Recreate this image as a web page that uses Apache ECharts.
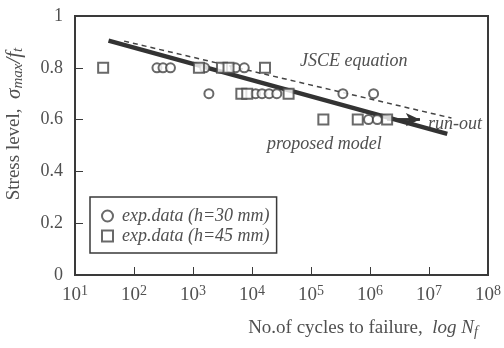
<!DOCTYPE html>
<html><head><meta charset="utf-8">
<script src="https://cdn.jsdelivr.net/npm/echarts@6/dist/echarts.min.js"></script>
<style>html,body{margin:0;padding:0;background:#fff}#c{width:504px;height:348px}</style>
</head><body><div id="c"></div>
<script>
// Data (N = cycles to failure, S = stress level)
const circleN = [245, 310, 415, 1580, 5250, 7400, 1860, 11500, 14800, 19500, 26300, 347000, 1150000, 944000, 1330000];
const circleS = [0.8, 0.8, 0.8, 0.8, 0.8, 0.8, 0.7, 0.7, 0.7, 0.7, 0.7, 0.7, 0.7, 0.6, 0.6];
const squareN = [30, 1260, 3100, 4000, 16600, 6600, 8300, 41700, 162000, 620000, 1950000];
const squareS = [0.8, 0.8, 0.8, 0.8, 0.8, 0.7, 0.7, 0.7, 0.6, 0.6, 0.6];
const modelN = [37, 20400000];
const modelS = [0.905, 0.545];
const jsceN = [68, 24000000];
const jsceS = [0.903, 0.606];
const runoutN = [1950000, 7000000];
const runoutS = [0.6, 0.6];
const yTicks = [0, 0.2, 0.4, 0.6, 0.8, 1];
const xExponents = [1, 2, 3, 4, 5, 6, 7, 8];

const serif = '"Liberation Serif", "DejaVu Serif", serif';
const ink = '#3a3a3a';
const txt = '#505050';
const zip = (a, b) => a.map((v, i) => [v, b[i]]);

const chart = echarts.init(document.getElementById('c'));
chart.setOption({
  animation: false,
  backgroundColor: '#fff',
  grid: { left: 75, right: 10, top: 16, bottom: 73, show: true, borderColor: ink, borderWidth: 2 },
  xAxis: {
    type: 'log', logBase: 10, min: Math.pow(10, xExponents[0]), max: Math.pow(10, xExponents[xExponents.length - 1]),
    axisLine: { lineStyle: { color: ink, width: 2 } },
    axisTick: { inside: true, length: 8, lineStyle: { color: ink, width: 1 } },
    minorTick: { show: false },
    splitLine: { show: false },
    axisLabel: {
      margin: 9, color: txt, fontFamily: serif, fontSize: 19,
      formatter: v => '10{s|' + Math.round(Math.log10(v)) + '}',
      rich: { s: { fontSize: 14, fontFamily: serif, color: txt, verticalAlign: 'top', padding: [0, 0, 9, 0] } }
    }
  },
  yAxis: {
    type: 'value', min: yTicks[0], max: yTicks[yTicks.length - 1], interval: 0.2,
    axisLine: { show: true, lineStyle: { color: ink, width: 2 } },
    axisTick: { show: true, inside: true, length: 8, lineStyle: { color: ink, width: 1 } },
    splitLine: { show: false },
    axisLabel: { margin: 12, color: txt, fontFamily: serif, fontSize: 18 }
  },
  legend: {
    left: 90, top: 197, orient: 'vertical', padding: [10, 7, 8, 11], itemGap: 2,
    itemWidth: 11, itemHeight: 11,
    borderColor: ink, borderWidth: 1.5, backgroundColor: '#fff',
    data: ['exp.data (h=30 mm)', 'exp.data (h=45 mm)'],
    textStyle: { fontFamily: serif, fontStyle: 'italic', fontSize: 18, color: txt, padding: [0, 0, 0, 4] }
  },
  series: [
    {
      type: 'line', name: 'JSCE', data: zip(jsceN, jsceS), symbol: 'none',
      lineStyle: { color: '#444', width: 1.5, type: [5, 4] }, z: 2
    },
    {
      type: 'line', name: 'model', data: zip(modelN, modelS), symbol: 'none',
      lineStyle: { color: '#333', width: 4.5 }, z: 3
    },
    {
      type: 'line', name: 'runout', data: zip(runoutN, runoutS), symbol: 'none',
      lineStyle: { color: '#333', width: 2.5 }, z: 4,
      markLine: {
        silent: true, symbol: ['none', 'arrow'], symbolSize: [10, 14], label: { show: false },
        lineStyle: { color: '#333', width: 2.5, type: 'solid' },
        data: [[{ coord: [runoutN[0], runoutS[0]] }, { coord: [runoutN[1], runoutS[1]] }]]
      }
    },
    {
      type: 'scatter', name: 'exp.data (h=30 mm)', data: zip(circleN, circleS),
      symbol: 'circle', symbolSize: 9,
      itemStyle: { color: '#fff', borderColor: '#444', borderWidth: 2 }, z: 5
    },
    {
      type: 'scatter', name: 'exp.data (h=45 mm)', data: zip(squareN, squareS),
      symbol: 'rect', symbolSize: 10,
      itemStyle: { color: '#fff', borderColor: '#444', borderWidth: 2 }, z: 5
    }
  ],
  graphic: [
    { type: 'text', left: 300, top: 52, style: { text: 'JSCE equation', font: 'italic 18px ' + serif, fill: txt } },
    { type: 'text', left: 267, top: 135, style: { text: 'proposed model', font: 'italic 18px ' + serif, fill: txt } },
    { type: 'text', left: 428, top: 115, style: { text: 'run-out', font: 'italic 18px ' + serif, fill: txt } },
    {
      type: 'text', x: 14, y: 124, rotation: Math.PI / 2,
      style: {
        text: 'Stress level,  {g|σ}{sub|max}{g|/}{i|f}{sub|t}',
        font: '19px ' + serif, fill: txt, align: 'center', verticalAlign: 'middle',
        rich: {
          g: { fontSize: 21, fontStyle: 'italic', fontFamily: serif, fill: txt },
          i: { fontSize: 21, fontStyle: 'italic', fontFamily: serif, fill: txt },
          sub: { fontSize: 15, fontStyle: 'italic', fontFamily: serif, fill: txt, padding: [9, 0, 0, 0] }
        }
      }
    },
    {
      type: 'text', x: 363, y: 328,
      style: {
        text: 'No.of cycles to failure,  {i|log N}{sub|f}',
        font: '19px ' + serif, fill: txt, align: 'center', verticalAlign: 'middle',
        rich: {
          i: { fontSize: 19, fontStyle: 'italic', fontFamily: serif, fill: txt },
          sub: { fontSize: 14, fontStyle: 'italic', fontFamily: serif, fill: txt, padding: [9, 0, 0, 0] }
        }
      }
    }
  ]
});
</script>
</body></html>
